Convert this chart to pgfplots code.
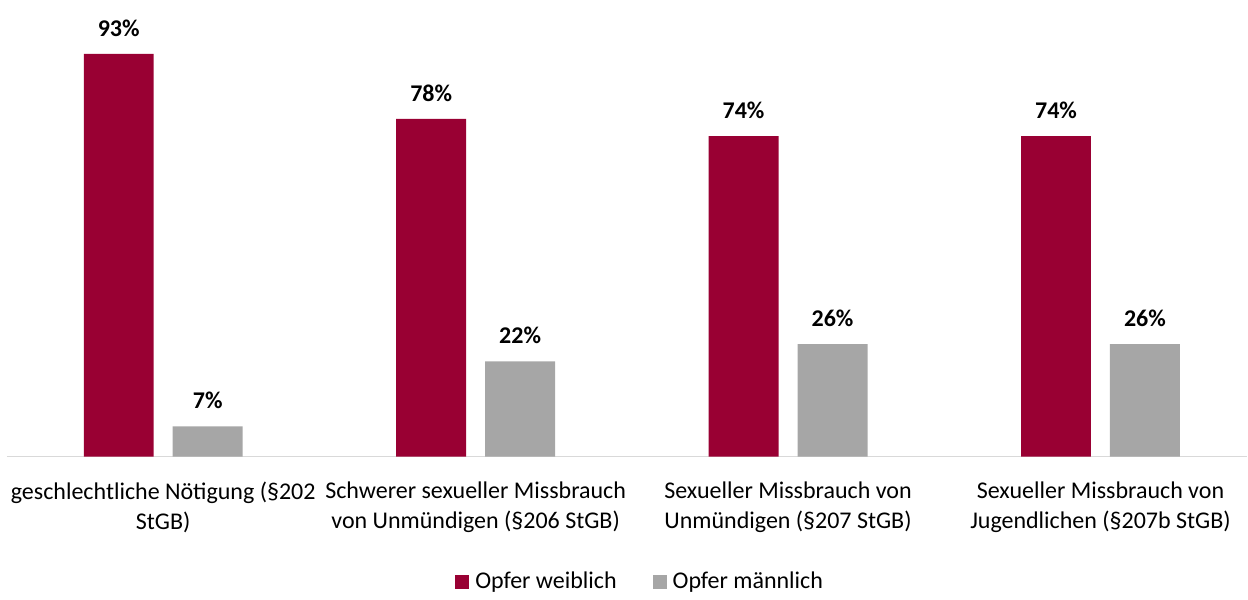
\documentclass[border=0pt]{standalone}
\usepackage{fontspec}
\setmainfont{Carlito}
\usepackage{pgfplots}
\pgfplotsset{compat=1.18}
\definecolor{opferw}{RGB}{153,0,51}
\definecolor{opferm}{RGB}{166,166,166}
\definecolor{axisgray}{RGB}{217,217,217}

\begin{document}
\begin{tikzpicture}
\begin{axis}[
    scale only axis,
    width=620.5pt,
    height=216.7pt,
    ybar=9.5pt,
    bar width=35pt,
    xmin=-0.5, xmax=3.47,
    ymin=0, ymax=100,
    axis x line*=bottom,
    axis y line=none,
    x axis line style={draw=axisgray, line width=0.7pt, -},
    xtick={0,1,2,3},
    xticklabels={
        {geschlechtliche Nötigung (§202\\StGB)},
        {Schwerer sexueller Missbrauch\\von Unmündigen (§206 StGB)},
        {Sexueller Missbrauch von\\Unmündigen (§207 StGB)},
        {Sexueller Missbrauch von\\Jugendlichen (§207b StGB)}},
    xtick style={draw=none},
    xticklabel style={align=center, font=\fontsize{12}{15}\selectfont, inner sep=0pt, yshift=-8pt},
    clip=false,
    nodes near coords={\pgfmathprintnumber[assume math mode=true]{\pgfplotspointmeta}\%},
    every node near coord/.append style={font=\fontsize{12}{14}\selectfont\bfseries, anchor=south, inner sep=0pt, yshift=8.5pt, text=black},
    legend style={at={(0.5,-0.289)}, anchor=center, xshift=7pt, draw=none, fill=none,
        legend columns=-1, font=\fontsize{12}{14}\selectfont,
        /tikz/every odd column/.append style={column sep=1pt},
        /tikz/every even column/.append style={column sep=16pt}},
    legend image code/.code={\fill[#1] (0pt,-3.5pt) rectangle (7pt,3.5pt);},
]
\addplot[fill=opferw, draw=none] coordinates {(0,93) (1,78) (2,74) (3,74)};
\addplot[fill=opferm, draw=none] coordinates {(0,7) (1,22) (2,26) (3,26)};
\legend{Opfer weiblich, Opfer männlich}
\coordinate (bl) at (rel axis cs:0,0);
\coordinate (br) at (rel axis cs:1,0);
\end{axis}
\path (bl) ++(-3.5pt,-66.5pt) coordinate (BB1);
\path (br) ++(0pt,228.5pt) coordinate (BB2);
\path[use as bounding box] (BB1) rectangle (BB2);
\end{tikzpicture}
\end{document}
